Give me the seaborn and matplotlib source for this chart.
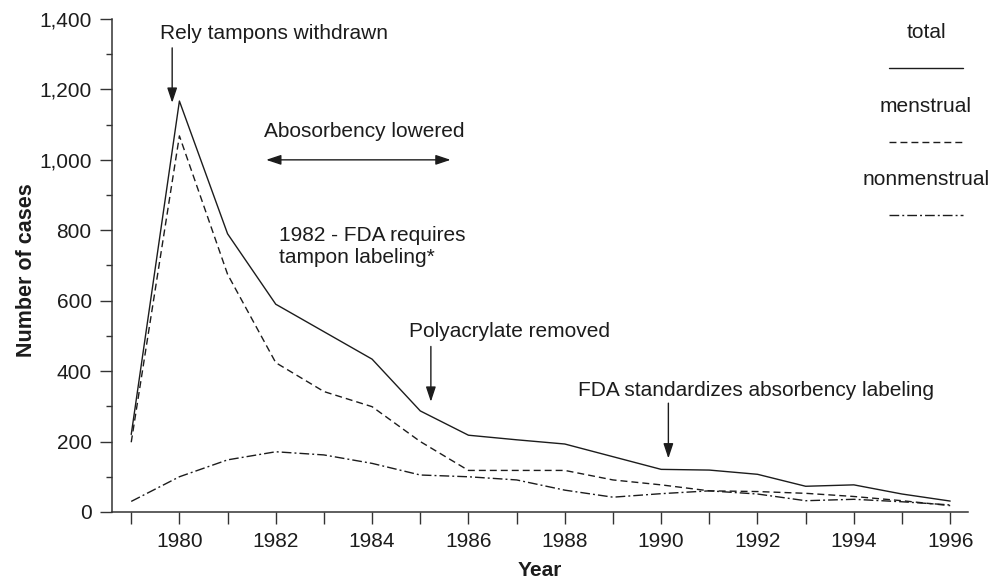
import matplotlib
matplotlib.use("Agg")
import matplotlib.pyplot as plt
from matplotlib.ticker import MultipleLocator, FixedLocator, FuncFormatter
from matplotlib.lines import Line2D
import pandas as pd
import seaborn as sns

# Reported toxic shock syndrome cases by year
years = list(range(1979, 1997))
total = [220, 1167, 790, 590, 512, 434, 287, 218, 205, 193, 157, 121, 119, 107, 73, 77, 51, 31]
menstrual = [198, 1068, 675, 424, 342, 299, 200, 118, 118, 118, 91, 77, 60, 58, 53, 44, 32, 18]
nonmenstrual = [30, 100, 148, 171, 162, 138, 105, 100, 91, 62, 42, 52, 60, 51, 32, 36, 29, 20]
series_names = ["total", "menstrual", "nonmenstrual"]
labeled_years = list(range(1980, 1997, 2))
y_ticks = list(range(0, 1401, 200))

df = pd.DataFrame({
    "Year": years * 3,
    "cases": total + menstrual + nonmenstrual,
    "series": [s for s in series_names for _ in years],
})

INK = "#1c1c1c"
AXIS = "#333333"
dash_styles = {
    "total": "",
    "menstrual": (5.0, 2.9),
    "nonmenstrual": (7.0, 2.2, 1.4, 2.2),
}

sns.set_theme(style="ticks")
plt.rcParams["font.family"] = ["Liberation Sans", "DejaVu Sans"]
plt.rcParams["lines.scale_dashes"] = False

fig = plt.figure(figsize=(10.05, 5.81), dpi=100)
ax = fig.add_axes([0.1114, 0.1188, 0.8518, 0.8485])

sns.lineplot(data=df, x="Year", y="cases", style="series", style_order=series_names,
             dashes=dash_styles, color=INK, linewidth=1.0, legend=False, ax=ax)

ax.set_xlim(1978.6, 1996.37)
ax.set_ylim(0, 1400)

for side in ("top", "right"):
    ax.spines[side].set_visible(False)
for side in ("left", "bottom"):
    ax.spines[side].set_color(AXIS)
    ax.spines[side].set_linewidth(1.1)

# x axis: a tick every year, labels on even years
ax.xaxis.set_major_locator(FixedLocator(labeled_years))
ax.xaxis.set_minor_locator(FixedLocator([y for y in years if y not in labeled_years]))
ax.xaxis.set_major_formatter(FuncFormatter(lambda v, p: f"{int(v)}"))
ax.tick_params(axis="x", which="both", direction="out", length=8.6, width=1.0,
               color=AXIS, labelsize=15, labelcolor=INK, pad=6)

# y axis: labeled every 200, short ticks every 100
ax.yaxis.set_major_locator(FixedLocator(y_ticks))
ax.yaxis.set_minor_locator(MultipleLocator(100))
ax.yaxis.set_major_formatter(FuncFormatter(lambda v, p: f"{int(v):,}"))
ax.tick_params(axis="y", which="major", direction="out", length=8.6, width=1.0,
               color=AXIS, labelsize=15, labelcolor=INK, pad=6)
ax.tick_params(axis="y", which="minor", direction="out", length=4.3, width=1.0, color=AXIS)

ax.set_xlabel("Year", fontsize=15, fontweight="bold", color=INK)
ax.set_ylabel("Number of cases", fontsize=15.5, fontweight="bold", color=INK)
ax.xaxis.set_label_coords(0.5, -0.099)
ax.yaxis.set_label_coords(-0.088, 0.491)

# Event annotations
text_kw = dict(fontsize=15, color=INK, va="baseline")
arrow_kw = dict(arrowstyle="-|>,head_length=0.6,head_width=0.2", color=INK, lw=1.0,
                shrinkA=0, shrinkB=0, mutation_scale=15)

ax.text(1979.6, 1342, "Rely tampons withdrawn", ha="left", **text_kw)
ax.annotate("", xy=(1979.85, 1162), xytext=(1979.85, 1318), arrowprops=arrow_kw)

ax.text(1983.84, 1064, "Abosorbency lowered", ha="center", **text_kw)
ax.annotate("", xy=(1985.63, 1000), xytext=(1981.8, 1000),
            arrowprops=dict(arrow_kw, arrowstyle="<|-|>,head_length=0.6,head_width=0.2"))

ax.text(1982.06, 770, "1982 - FDA requires", ha="left", **text_kw)
ax.text(1982.06, 706, "tampon labeling*", ha="left", **text_kw)

ax.text(1984.76, 496, "Polyacrylate removed", ha="left", **text_kw)
ax.annotate("", xy=(1985.22, 313), xytext=(1985.22, 470), arrowprops=arrow_kw)

ax.text(1988.27, 329, "FDA standardizes absorbency labeling", ha="left", **text_kw)
ax.annotate("", xy=(1990.15, 152), xytext=(1990.15, 309), arrowprops=arrow_kw)

# Key: series name above a sample of its line style
key_x = (0.9077, 0.9942)
key_text_y = {"total": 0.961, "menstrual": 0.812, "nonmenstrual": 0.663}
key_line_y = {"total": 0.901, "menstrual": 0.751, "nonmenstrual": 0.602}
for name in series_names:
    ax.text(sum(key_x) / 2, key_text_y[name], name, transform=ax.transAxes,
            ha="center", va="baseline", fontsize=15, color=INK)
    sample = Line2D(key_x, [key_line_y[name]] * 2, transform=ax.transAxes,
                    color=INK, linewidth=1.0)
    if dash_styles[name]:
        sample.set_dashes(dash_styles[name])
    ax.add_line(sample)

fig.savefig("out.png", dpi=100)
